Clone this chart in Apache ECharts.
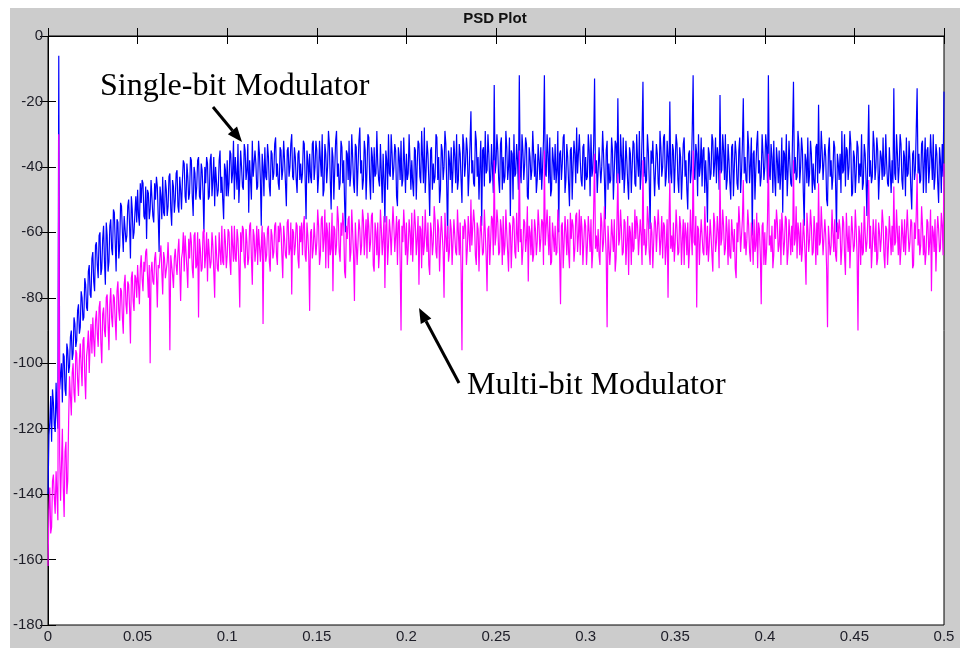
<!DOCTYPE html>
<html><head><meta charset="utf-8">
<script src="https://cdn.jsdelivr.net/npm/echarts@6/dist/echarts.min.js"></script>
<style>html,body{margin:0;padding:0;background:#fff;width:960px;height:648px;overflow:hidden}
#chart{position:absolute;left:10px;top:8px;width:950px;height:640px}</style>
</head><body><div id="chart"></div>
<script>
const chartTitle = 'PSD Plot';
const xMin = 0, xMax = 0.5, xInterval = 0.05;
const yMin = -180, yMax = 0, yInterval = 20;
const binWidth = 0.0005; // normalized frequency spacing of PSD bins
const singleBitLabel = 'Single-bit Modulator';
const multiBitLabel = 'Multi-bit Modulator';

const singleBitPSD = [
-140,-122,-118,-110,-124,-108,-112,-119,-121,-106,-115,-120,-6,-108,-104,-100,-112,-97,-98,-108,-110,-94,-96,-103,-101,-92,-90,-99,-97,-86,-88,-95,-93,-84,-82,-91,-89,-78,-80,-87,-86,-74,-76,-83,-84,-72,-70,-79,-80,-68,
-66,-75,-78,-64,-63,-70,-74,-61,-60,-73,-71,-62,-58,-69,-76,-57,-61,-72,-69,-58,-56,-65,-67,-53,-54,-63,-72,-56,-57,-68,-64,-51,-52,-60,-66,-55,-55,-63,-61,-52,-50,-58,-68,-49,-53,-62,-60,-54,-49,-57,
-47,-55,-58,-45,-51,-44,-45,-55,-56,-46,-62,-47,-48,-56,-53,-44,-44,-55,-57,-45,-50,-43,-46,-55,-66,-46,-49,-56,-43,-54,-55,-44,-47,-55,-52,-43,-42,-53,-58,-44,-46,-54,-50,-42,-41,-52,-54,-43,-47,-53,
-44,-38,-39,-49,-51,-39,-43,-50,-48,-37,-38,-49,-55,-40,-42,-50,-46,-38,-37,-49,-50,-39,-41,-48,-60,-40,-45,-37,-39,-50,-49,-38,-36,-49,-44,-37,-52,-40,-40,-49,-47,-38,-35,-48,-43,-50,-56,-39,-41,-49,
-38,-49,-45,-35,-36,-45,-42,-32,-50,-37,-37,-47,-33,-51,-44,-35,-40,-46,-47,-33,-35,-44,-41,-33,-54,-38,-38,-50,-32,-43,-43,-35,-39,-47,-46,-32,-36,-44,-58,-36,-40,-49,-34,-43,-44,-33,-37,-46,-49,-35,
-36,-44,-42,-33,-31,-43,-39,-45,-47,-34,-35,-44,-41,-32,-38,-45,-52,-35,-34,-43,-40,-33,-30,-43,-44,-34,-37,-44,-48,-36,-35,-44,-39,-45,-42,-32,-33,-44,-56,-35,-38,-45,-36,-43,-45,-33,-32,-44,-40,-32,
-35,-48,-43,-32,-38,-43,-30,-49,-47,-33,-36,-45,-40,-29,-33,-44,-53,-34,-37,-50,-41,-32,-29,-43,-39,-47,-45,-32,-34,-45,-38,-51,-60,-35,-36,-44,-32,-46,-42,-30,-37,-45,-48,-33,-34,-49,-40,-32,-28,-42,
-38,-47,-44,-32,-35,-50,-41,-30,-31,-44,-50,-34,-37,-48,-34,-43,-42,-29,-39,-44,-46,-33,-33,-51,-36,-44,-57,-35,-38,-47,-30,-42,-43,-30,-36,-44,-40,-33,-35,-49,-52,-34,-37,-44,-32,-46,-44,-31,-39,-48,
-36,-44,-42,-30,-30,-47,-38,-45,-49,-34,-35,-50,-40,-32,-33,-43,-45,-29,-37,-45,-28,-48,-41,-32,-36,-44,-55,-35,-34,-47,-39,-45,-43,-30,-31,-44,-37,-51,-47,-33,-35,-44,-40,-29,-33,-46,-62,-35,-38,-44,
-34,-48,-41,-32,-37,-45,-30,-47,-44,-33,-36,-44,-51,-30,-33,-43,-39,-31,-35,-49,-42,-33,-23,-42,-38,-45,-46,-29,-32,-43,-37,-50,-40,-32,-58,-35,-34,-46,-29,-42,-41,-30,-36,-45,-44,-33,-33,-48,-15,-42,
-39,-30,-35,-44,-48,-33,-31,-47,-37,-45,-43,-29,-34,-44,-40,-31,-55,-35,-36,-50,-30,-43,-42,-33,-38,-47,-12,-41,-45,-30,-35,-44,-39,-31,-33,-49,-50,-34,-37,-44,-41,-29,-29,-43,-36,-48,-44,-33,-38,-44,
-34,-47,-40,-32,-12,-42,-43,-30,-36,-45,-31,-49,-47,-34,-38,-44,-33,-45,-41,-29,-60,-36,-35,-44,-39,-31,-30,-48,-44,-33,-37,-45,-52,-35,-34,-50,-40,-32,-36,-45,-28,-42,-42,-30,-38,-44,-46,-34,-33,-47,
-37,-44,-43,-30,-35,-49,-30,-43,-41,-33,-13,-42,-38,-48,-48,-34,-34,-45,-40,-29,-36,-44,-56,-35,-32,-47,-39,-45,-44,-31,-35,-50,-41,-32,-33,-45,-19,-42,-45,-30,-37,-44,-31,-48,-42,-32,-38,-45,-50,-34,
-36,-48,-40,-32,-33,-45,-46,-30,-38,-43,-29,-47,-42,-31,-14,-43,-37,-45,-44,-30,-35,-44,-59,-35,-39,-32,-32,-49,-41,-33,-36,-45,-47,-29,-34,-43,-40,-31,-30,-46,-43,-32,-37,-45,-20,-42,-45,-33,-35,-48,
-39,-30,-33,-44,-48,-34,-37,-50,-42,-33,-31,-43,-38,-47,-53,-36,-35,-45,-41,-29,-12,-42,-44,-33,-36,-49,-30,-43,-40,-31,-46,-35,-34,-48,-38,-45,-57,-34,-36,-44,-42,-30,-32,-43,-39,-31,-45,-34,-37,-47,
-18,-42,-41,-30,-35,-44,-30,-47,-44,-33,-38,-45,-50,-34,-33,-49,-40,-32,-36,-45,-47,-35,-31,-48,-42,-33,-19,-42,-37,-44,-45,-29,-34,-45,-39,-31,-61,-36,-35,-50,-41,-33,-29,-42,-38,-46,-43,-30,-36,-44,
-40,-30,-34,-45,-12,-42,-44,-33,-37,-48,-32,-43,-49,-34,-38,-45,-35,-47,-42,-31,-54,-35,-36,-44,-30,-49,-41,-32,-39,-45,-46,-30,-14,-42,-37,-44,-43,-29,-33,-45,-40,-31,-35,-48,-58,-36,-38,-45,-31,-46,
-42,-32,-36,-48,-39,-45,-47,-34,-33,-45,-21,-42,-40,-29,-35,-44,-44,-33,-37,-50,-52,-35,-31,-43,-38,-47,-43,-32,-34,-45,-60,-36,-39,-44,-36,-48,-29,-42,-41,-30,-46,-34,-35,-44,-40,-29,-33,-49,-48,-35,
-37,-48,-42,-32,-34,-45,-39,-43,-30,-47,-45,-33,-36,-44,-55,-36,-21,-43,-38,-45,-43,-29,-33,-44,-40,-31,-35,-50,-50,-35,-37,-44,-31,-43,-42,-30,-39,-45,-46,-34,-34,-48,-38,-45,-16,-42,-44,-30,-36,-45,
-40,-30,-33,-44,-47,-35,-37,-49,-31,-43,-42,-32,-38,-47,-53,-36,-35,-44,-41,-29,-16,-42,-36,-45,-44,-33,-32,-48,-39,-31,-48,-35,-34,-45,-40,-30,-37,-44,-30,-47,-43,-33,-36,-45,-51,-34,-38,-48,-33,-43,
-17
];

const multiBitPSD = [
-162,-145,-138,-152,-150,-136,-134,-141,-146,-133,-140,-148,-30,-128,-142,-131,-120,-138,-147,-127,-124,-140,-136,-118,-104,-110,-116,-103,-100,-109,-112,-96,-97,-105,-110,-99,-94,-101,-107,-93,-92,-104,-111,-98,-95,-90,-103,-94,-88,-97,
-86,-93,-98,-87,-84,-91,-95,-83,-81,-94,-100,-85,-83,-90,-92,-80,-79,-88,-96,-82,-77,-86,-89,-79,-80,-87,-93,-78,-75,-84,-87,-77,-78,-86,-91,-76,-73,-82,-85,-75,-76,-83,-94,-74,-72,-81,-84,-73,-74,-80,
-70,-76,-82,-71,-67,-74,-78,-69,-72,-66,-65,-73,-80,-70,-100,-72,-69,-75,-76,-68,-66,-73,-83,-70,-71,-67,-64,-72,-79,-66,-68,-74,-74,-69,-63,-71,-96,-67,-70,-73,-77,-68,-65,-70,-73,-66,-62,-71,-81,-68,
-66,-60,-72,-61,-61,-71,-77,-62,-68,-60,-63,-71,-74,-61,-60,-71,-70,-60,-86,-62,-65,-72,-71,-60,-59,-71,-67,-60,-75,-62,-62,-71,-69,-60,-64,-72,-80,-61,-61,-71,-72,-60,-66,-70,-58,-69,-70,-59,-63,-71,
-67,-59,-60,-69,-73,-58,-64,-69,-58,-68,-69,-59,-62,-70,-83,-60,-66,-58,-59,-69,-71,-59,-63,-70,-68,-58,-57,-68,-76,-59,-61,-69,-65,-58,-70,-59,-59,-69,-64,-58,-88,-60,-62,-69,-67,-59,-58,-69,-72,-59,
-61,-68,-66,-58,-57,-67,-70,-58,-63,-57,-59,-67,-74,-58,-62,-67,-68,-57,-56,-67,-65,-57,-79,-59,-60,-67,-64,-57,-58,-68,-71,-58,-63,-57,-67,-58,-55,-67,-69,-57,-61,-67,-84,-60,-59,-68,-65,-57,-62,-67,
-63,-53,-58,-70,-67,-56,-55,-66,-62,-53,-71,-57,-60,-71,-57,-67,-65,-54,-78,-58,-59,-67,-64,-52,-56,-66,-69,-57,-61,-54,-58,-72,-74,-58,-62,-56,-55,-69,-66,-53,-60,-67,-81,-57,-57,-70,-63,-56,-59,-67,
-64,-53,-56,-67,-61,-56,-68,-54,-58,-66,-63,-55,-54,-70,-72,-57,-60,-67,-57,-71,-66,-53,-59,-67,-62,-55,-77,-58,-55,-70,-64,-56,-60,-67,-67,-52,-58,-66,-61,-55,-70,-57,-56,-69,-90,-58,-63,-53,-59,-67,
-57,-70,-65,-56,-60,-67,-54,-69,-69,-53,-58,-67,-62,-55,-76,-58,-59,-71,-55,-67,-64,-53,-61,-66,-57,-70,-73,-57,-60,-67,-63,-52,-56,-66,-68,-56,-59,-72,-62,-55,-55,-66,-80,-54,-61,-66,-58,-69,-66,-56,
-59,-70,-63,-56,-56,-66,-67,-53,-60,-67,-57,-71,-96,-58,-62,-56,-58,-70,-65,-55,-61,-66,-50,-64,-64,-53,-57,-67,-70,-57,-59,-72,-62,-55,-55,-67,-66,-53,-60,-67,-78,-59,-58,-70,-63,-55,-56,-67,-38,-64,
-61,-53,-57,-67,-66,-56,-59,-70,-55,-67,-64,-53,-60,-66,-72,-57,-58,-71,-63,-55,-56,-66,-68,-54,-61,-66,-35,-63,-59,-70,-65,-56,-57,-66,-62,-52,-75,-58,-60,-67,-56,-69,-67,-56,-59,-67,-63,-53,-58,-66,
-62,-56,-57,-70,-35,-64,-64,-53,-60,-67,-55,-70,-69,-57,-61,-66,-58,-67,-66,-53,-59,-67,-82,-58,-57,-71,-63,-55,-60,-67,-56,-66,-71,-54,-62,-56,-58,-69,-65,-55,-54,-66,-61,-53,-67,-55,-59,-70,-63,-56,
-58,-70,-64,-55,-60,-66,-56,-71,-66,-53,-36,-65,-61,-66,-59,-67,-70,-54,-57,-66,-63,-52,-60,-67,-89,-58,-58,-70,-65,-56,-61,-66,-56,-72,-68,-57,-42,-64,-62,-53,-59,-67,-66,-56,-57,-70,-63,-55,-73,-58,
-60,-70,-57,-66,-65,-53,-62,-55,-58,-67,-67,-56,-61,-70,-38,-64,-59,-67,-64,-52,-56,-66,-70,-57,-60,-71,-63,-55,-57,-66,-66,-53,-59,-67,-62,-55,-68,-57,-58,-70,-64,-56,-80,-58,-44,-65,-61,-66,-57,-69,
-63,-53,-59,-67,-66,-55,-58,-70,-62,-56,-70,-57,-60,-67,-57,-71,-65,-53,-61,-67,-35,-63,-64,-55,-83,-58,-59,-70,-62,-56,-56,-66,-67,-52,-60,-67,-58,-69,-64,-56,-61,-67,-72,-54,-57,-66,-63,-55,-60,-71,
-41,-64,-62,-53,-58,-67,-65,-55,-60,-70,-56,-67,-68,-56,-61,-66,-59,-71,-74,-57,-63,-52,-57,-66,-66,-56,-44,-65,-60,-67,-62,-53,-58,-66,-69,-57,-61,-70,-56,-66,-64,-54,-71,-57,-59,-67,-82,-58,-57,-70,
-60,-70,-65,-56,-36,-64,-61,-66,-58,-71,-67,-56,-62,-53,-57,-66,-64,-56,-70,-54,-59,-67,-63,-55,-56,-70,-66,-56,-61,-67,-58,-66,-38,-64,-62,-52,-68,-57,-60,-67,-57,-69,-65,-56,-61,-67,-76,-54,-59,-66,
-62,-53,-58,-67,-66,-55,-60,-70,-57,-67,-45,-64,-63,-52,-59,-67,-67,-56,-61,-71,-89,-58,-58,-67,-64,-53,-60,-66,-56,-67,-69,-57,-62,-56,-59,-70,-65,-55,-57,-67,-73,-54,-61,-66,-58,-71,-63,-55,-60,-66,
-64,-53,-59,-67,-90,-58,-61,-70,-57,-67,-66,-52,-60,-66,-63,-56,-44,-65,-58,-71,-65,-56,-61,-66,-56,-70,-68,-57,-60,-66,-62,-53,-57,-67,-71,-58,-59,-70,-64,-55,-61,-67,-58,-66,-46,-64,-63,-53,-60,-67,
-58,-70,-65,-56,-61,-66,-56,-67,-67,-53,-60,-66,-63,-56,-57,-71,-70,-57,-62,-55,-42,-64,-59,-67,-64,-52,-58,-67,-61,-70,-66,-56,-57,-67,-63,-53,-78,-58,-60,-66,-56,-72,-62,-55,-59,-66,-65,-54,-58,-67,
-39
];

const toPairs = arr => arr.map((v, i) => [+(i * binWidth).toFixed(5), v]);

const tickFont = {fontSize: 15, color: '#1e1e28', fontFamily: '"Liberation Sans", Arial, sans-serif'};
const axisCommon = {
  axisLine: {show: true, lineStyle: {color: '#000', width: 1}},
  axisTick: {show: true, inside: true, length: 8, lineStyle: {color: '#000', width: 1}},
  splitLine: {show: false}
};

function arrow(x1, y1, x2, y2) {
  const ang = Math.atan2(y2 - y1, x2 - x1);
  const L = 15, W = 6;
  const bx = x2 - L * Math.cos(ang), by = y2 - L * Math.sin(ang);
  const px = -Math.sin(ang) * W, py = Math.cos(ang) * W;
  return [
    {type: 'line', shape: {x1, y1, x2: bx, y2: by}, style: {stroke: '#000', lineWidth: 3}, z: 100},
    {type: 'polygon', shape: {points: [[x2, y2], [bx + px, by + py], [bx - px, by - py]]}, style: {fill: '#000'}, z: 100}
  ];
}

const chart = echarts.init(document.getElementById('chart'), null, {renderer: 'canvas'});
chart.setOption({
  animation: false,
  backgroundColor: '#cccccc',
  grid: {left: 36, top: 28, right: 16, bottom: 23, show: true, backgroundColor: '#ffffff', borderColor: '#000', borderWidth: 1, containLabel: false},
  xAxis: [
    Object.assign({type: 'value', min: xMin, max: xMax, interval: xInterval, position: 'bottom',
      axisLabel: Object.assign({margin: 4}, tickFont)}, axisCommon),
    Object.assign({type: 'value', min: xMin, max: xMax, interval: xInterval, position: 'top',
      axisLabel: {show: false}}, axisCommon)
  ],
  yAxis: [
    Object.assign({type: 'value', min: yMin, max: yMax, interval: yInterval, position: 'left',
      axisLabel: Object.assign({margin: 5}, tickFont)}, axisCommon),
    Object.assign({type: 'value', min: yMin, max: yMax, interval: yInterval, position: 'right',
      axisLabel: {show: false}}, axisCommon)
  ],
  series: [
    {type: 'line', name: singleBitLabel, data: toPairs(singleBitPSD), showSymbol: false, symbol: 'none',
     lineStyle: {color: '#0000ff', width: 1.2}, itemStyle: {color: '#0000ff'}, z: 2},
    {type: 'line', name: multiBitLabel, data: toPairs(multiBitPSD), showSymbol: false, symbol: 'none',
     lineStyle: {color: '#ff00ff', width: 1.2}, itemStyle: {color: '#ff00ff'}, z: 3}
  ],
  graphic: [
    {type: 'text', x: 485, y: 11, style: {text: chartTitle, fill: '#111', font: 'bold 15px "Liberation Sans", Arial, sans-serif', textAlign: 'center', textVerticalAlign: 'middle'}, z: 100},
    {type: 'text', x: 90, y: 79, style: {text: singleBitLabel, fill: '#000', font: '32px "Liberation Serif", "Times New Roman", serif', textAlign: 'left', textVerticalAlign: 'middle'}, z: 100},
    {type: 'text', x: 457, y: 378, style: {text: multiBitLabel, fill: '#000', font: '32px "Liberation Serif", "Times New Roman", serif', textAlign: 'left', textVerticalAlign: 'middle'}, z: 100},
    ...arrow(203, 99, 232, 134),
    ...arrow(449, 375, 409, 300)
  ]
});
</script>
</body></html>
